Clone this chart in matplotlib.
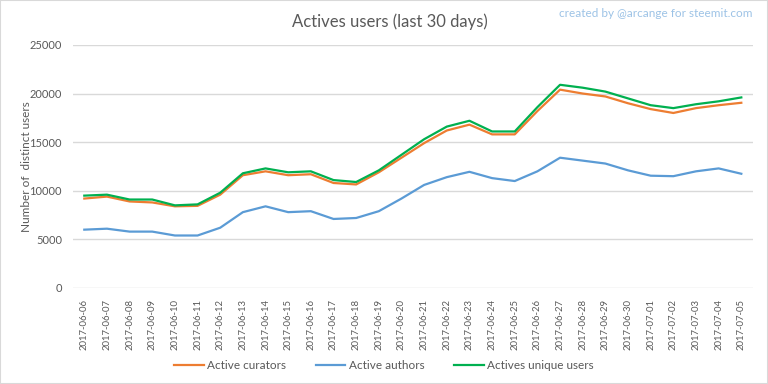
import matplotlib.pyplot as plt
import numpy as np
import pandas as pd

dates = pd.date_range("2017-06-06", "2017-07-05").strftime("%Y-%m-%d").tolist()

curators = [9200, 9400, 8900, 8800, 8400, 8450, 9600, 11600, 12000, 11600,
            11700, 10800, 10650, 11900, 13400, 14900, 16200, 16800, 15800, 15800,
            18200, 20400, 20000, 19700, 19000, 18400, 18000, 18500, 18800, 19050]
authors = [6000, 6100, 5800, 5800, 5400, 5400, 6200, 7800, 8400, 7800,
           7900, 7100, 7200, 7900, 9200, 10600, 11400, 11950, 11300, 11000,
           12000, 13400, 13100, 12800, 12100, 11550, 11500, 12000, 12300, 11750]
unique = [9500, 9600, 9100, 9100, 8500, 8600, 9800, 11800, 12300, 11900,
          12000, 11100, 10900, 12100, 13700, 15300, 16600, 17200, 16100, 16100,
          18600, 20900, 20600, 20200, 19500, 18800, 18500, 18900, 19200, 19600]

plt.rcParams['font.family'] = ['Lato', 'DejaVu Sans']
grey = '#595959'

fig = plt.figure(figsize=(7.68, 3.84), dpi=100)
ax = fig.add_axes([0.095, 0.25, 0.885, 0.633])

x = np.arange(len(dates))
ax.plot(x, curators, color='#ED7D31', lw=1.6, label='Active curators')
ax.plot(x, authors, color='#5B9BD5', lw=1.6, label='Active authors')
ax.plot(x, unique, color='#00B050', lw=1.6, label='Actives unique users')

ax.set_xlim(-0.5, len(dates) - 0.5)
ax.set_ylim(0, 25000)
ax.set_yticks(range(0, 25001, 5000))
ax.set_xticks(x)
ax.set_xticklabels(dates, rotation=90, fontsize=6.8, color=grey)
ax.tick_params(axis='y', labelsize=8, labelcolor=grey, length=0, pad=8)
ax.tick_params(axis='x', length=0, pad=8)
ax.grid(axis='y', color='#D9D9D9', lw=1)
ax.set_axisbelow(True)
for s in ax.spines.values():
    s.set_visible(False)

ax.set_ylabel('Number of  distinct users', fontsize=8.5, color=grey)
ax.yaxis.set_label_coords(-0.06, 0.5)

fig.text(0.508, 0.943, 'Actives users (last 30 days)', ha='center', va='center',
         fontsize=12, color=grey)
fig.text(0.98, 0.965, 'created by @arcange for steemit.com', ha='right', va='center',
         fontsize=8.5, color='#9DC3E6')

fig.legend(loc='center', bbox_to_anchor=(0.5, 0.047), ncol=3, frameon=False,
           fontsize=8.5, handlelength=2.5, handletextpad=0.3, columnspacing=2.5,
           labelcolor=grey)

fig.patches.append(plt.Rectangle((0, 0), 1, 1, transform=fig.transFigure,
                                 fill=False, ec='#D9D9D9', lw=1.5))

fig.savefig('out.png', dpi=100)
